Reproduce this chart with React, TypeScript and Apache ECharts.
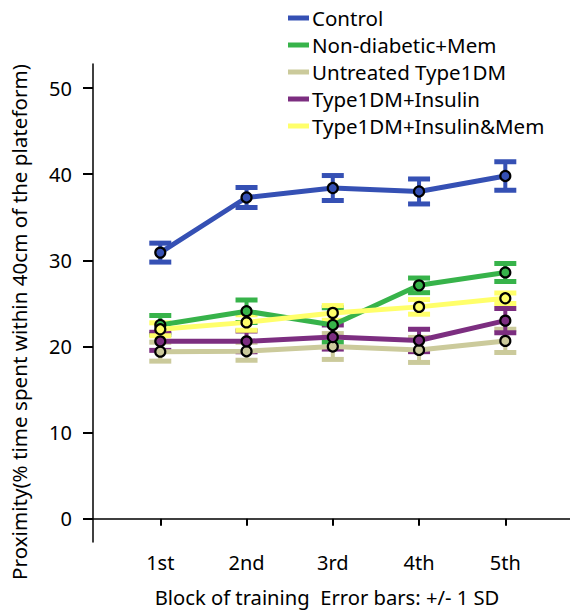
import React, { useEffect, useRef } from "react";
import * as echarts from "echarts";

const categories = ["1st", "2nd", "3rd", "4th", "5th"];
const blocks = [1, 2, 3, 4, 5];
const yTicks = [0, 10, 20, 30, 40, 50];

const seriesNames = [
  "Control",
  "Non-diabetic+Mem",
  "Untreated Type1DM",
  "Type1DM+Insulin",
  "Type1DM+Insulin&Mem",
];
const seriesColors = ["#3550b4", "#37b34a", "#cbca9b", "#7c2e80", "#ffff6a"];

const controlMean = [30.9, 37.3, 38.4, 38.0, 39.8];
const controlSD = [1.1, 1.15, 1.45, 1.45, 1.65];
const nonDiabMemMean = [22.5, 24.1, 22.5, 27.1, 28.6];
const nonDiabMemSD = [1.1, 1.3, 2.0, 0.85, 1.05];
const untreatedMean = [19.4, 19.45, 20.0, 19.6, 20.65];
const untreatedSD = [1.1, 1.05, 1.5, 1.45, 1.35];
const insulinMean = [20.6, 20.6, 21.1, 20.7, 23.0];
const insulinSD = [1.05, 1.2, 1.4, 1.3, 1.4];
const insulinMemMean = [22.0, 22.8, 23.9, 24.6, 25.6];
const insulinMemSD = [0.75, 0.9, 0.85, 0.85, 0.6];

const means = [controlMean, nonDiabMemMean, untreatedMean, insulinMean, insulinMemMean];
const sds = [controlSD, nonDiabMemSD, untreatedSD, insulinSD, insulinMemSD];

const FONT = "'Noto Sans', sans-serif";

export default function App() {
  const ref = useRef<HTMLDivElement>(null);
  useEffect(() => {
    if (!ref.current) return;
    const chart = echarts.init(ref.current, null, { renderer: "svg" });
    const series: any[] = [];
    seriesNames.forEach((name, i) => {
      const color = seriesColors[i];
      series.push({
        type: "custom",
        name: name + " SD",
        z: 2,
        data: blocks.map((b, j) => [b, means[i][j], sds[i][j]]),
        encode: { x: 0, y: 1 },
        renderItem: (params: any, api: any) => {
          const x = api.value(0);
          const y = api.value(1);
          const sd = api.value(2);
          const top = api.coord([x, y + sd]);
          const bot = api.coord([x, y - sd]);
          const hw = 11;
          const ch = 5;
          return {
            type: "group",
            children: [
              {
                type: "line",
                shape: { x1: top[0], y1: top[1], x2: bot[0], y2: bot[1] },
                style: { stroke: color, lineWidth: 4 },
              },
              {
                type: "rect",
                shape: { x: top[0] - hw, y: top[1] - ch / 2, width: hw * 2, height: ch },
                style: { fill: color },
              },
              {
                type: "rect",
                shape: { x: bot[0] - hw, y: bot[1] - ch / 2, width: hw * 2, height: ch },
                style: { fill: color },
              },
            ],
          };
        },
      });
    });
    seriesNames.forEach((name, i) => {
      series.push({
        type: "line",
        name,
        z: 3,
        data: blocks.map((b, j) => [b, means[i][j]]),
        lineStyle: { color: seriesColors[i], width: 5 },
        itemStyle: { color: seriesColors[i], borderColor: "#000", borderWidth: 2.2 },
        symbol: "circle",
        symbolSize: 10,
        showSymbol: true,
      });
    });

    chart.setOption({
      animation: false,
      backgroundColor: "#fff",
      textStyle: { fontFamily: FONT },
      grid: {
        left: 93,
        right: 0,
        top: 64,
        bottom: 71,
        containLabel: false,
        outerBoundsMode: "none",
      },
      legend: {
        orient: "vertical",
        left: 283,
        top: 1,
        itemWidth: 21,
        itemHeight: 5,
        itemGap: 3,
        icon: "rect",
        itemStyle: { borderWidth: 0 },
        data: seriesNames.map((n, i) => ({
          name: n,
          itemStyle: { color: seriesColors[i], borderWidth: 0 },
        })),
        textStyle: { fontFamily: FONT, fontSize: 20.5, color: "#000", lineHeight: 24, padding: [0, 0, 0, -2] },
      },
      xAxis: {
        type: "value",
        min: 0.22,
        max: 5.75,
        splitLine: { show: false },
        axisLine: { lineStyle: { color: "#000", width: 1.5 } },
        axisTick: { customValues: blocks, length: 7, lineStyle: { color: "#000", width: 2 } },
        axisLabel: {
          customValues: blocks,
          formatter: (v: number) => categories[Math.round(v) - 1] ?? "",
          fontFamily: FONT,
          fontSize: 20,
          color: "#000",
          margin: 10,
        },
        name: "Block of training  Error bars: +/- 1 SD",
        nameLocation: "middle",
        nameGap: 45,
        nameTextStyle: {
          fontFamily: FONT,
          fontSize: 20.2,
          color: "#000",
          verticalAlign: "top",
          padding: [0, 9, 0, 0],
        },
      },
      yAxis: {
        type: "value",
        min: -2.7,
        max: 52.8,
        splitLine: { show: false },
        axisLine: { show: true, lineStyle: { color: "#000", width: 1.5 } },
        axisTick: { show: true, customValues: yTicks, length: 10, lineStyle: { color: "#000", width: 2 } },
        axisLabel: {
          customValues: yTicks,
          fontFamily: FONT,
          fontSize: 20,
          color: "#000",
          margin: 21,
        },
      },
      graphic: [
        {
          type: "text",
          x: 19,
          y: 322,
          rotation: Math.PI / 2,
          style: {
            text: "Proximity(% time spent within 40cm of the plateform)",
            font: `20.6px ${FONT}`,
            fill: "#000",
            textAlign: "center",
            textVerticalAlign: "middle",
          },
        },
      ],
      series,
    });
    return () => chart.dispose();
  }, []);
  return (
    <div
      ref={ref}
      style={{ position: "absolute", left: 0, top: 0, width: 570, height: 613 }}
    />
  );
}
